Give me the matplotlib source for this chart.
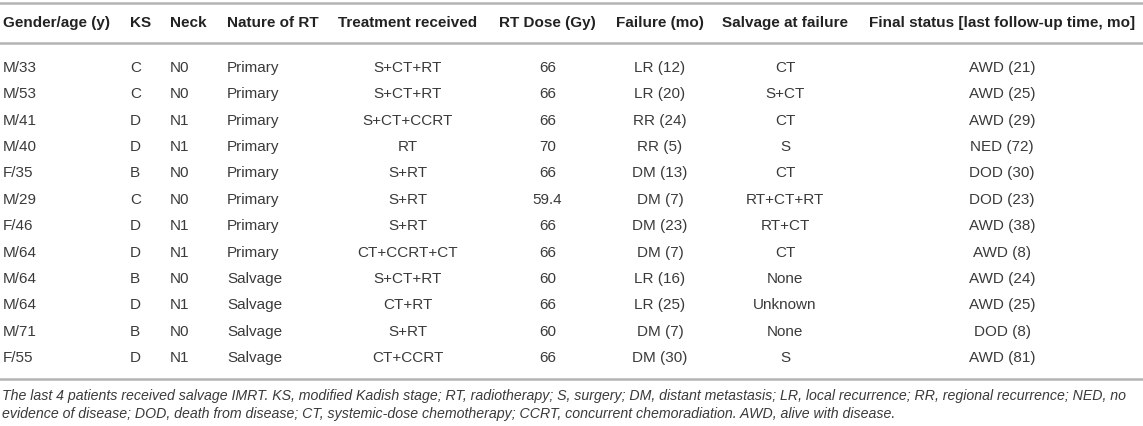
import matplotlib
matplotlib.use("Agg")
import matplotlib.pyplot as plt
from matplotlib.lines import Line2D

# table content
Headers = ["Gender/age (y)", "KS", "Neck", "Nature of RT", "Treatment received",
           "RT Dose (Gy)", "Failure (mo)", "Salvage at failure",
           "Final status [last follow-up time, mo]"]
Gender_Age = ["M/33", "M/53", "M/41", "M/40", "F/35", "M/29", "F/46", "M/64", "M/64", "M/64", "M/71", "F/55"]
KS = ["C", "C", "D", "D", "B", "C", "D", "D", "B", "D", "B", "D"]
Neck = ["N0", "N0", "N1", "N1", "N0", "N0", "N1", "N1", "N0", "N1", "N0", "N1"]
Nature_RT = ["Primary"] * 8 + ["Salvage"] * 4
Treatment = ["S+CT+RT", "S+CT+RT", "S+CT+CCRT", "RT", "S+RT", "S+RT", "S+RT",
             "CT+CCRT+CT", "S+CT+RT", "CT+RT", "S+RT", "CT+CCRT"]
RT_Dose = ["66", "66", "66", "70", "66", "59.4", "66", "66", "60", "66", "60", "66"]
Failure = ["LR (12)", "LR (20)", "RR (24)", "RR (5)", "DM (13)", "DM (7)", "DM (23)",
           "DM (7)", "LR (16)", "LR (25)", "DM (7)", "DM (30)"]
Salvage = ["CT", "S+CT", "CT", "S", "CT", "RT+CT+RT", "RT+CT", "CT", "None",
           "Unknown", "None", "S"]
Final_Status = ["AWD (21)", "AWD (25)", "AWD (29)", "NED (72)", "DOD (30)", "DOD (23)",
                "AWD (38)", "AWD (8)", "AWD (24)", "AWD (25)", "DOD (8)", "AWD (81)"]
Footnote = ["The last 4 patients received salvage IMRT. KS, modified Kadish stage; RT, radiotherapy; "
            "S, surgery; DM, distant metastasis; LR, local recurrence; RR, regional recurrence; NED, no",
            "evidence of disease; DOD, death from disease; CT, systemic-dose chemotherapy; "
            "CCRT, concurrent chemoradiation. AWD, alive with disease."]

Columns = [Gender_Age, KS, Neck, Nature_RT, Treatment, RT_Dose, Failure, Salvage, Final_Status]
Col_X = [3, 130, 170, 227, 338, 499, 616, 722, 869]       # header left edges in px
Centered = [False, False, False, False, True, True, True, True, True]

W, H = 1143, 426
fig = plt.figure(figsize=(W / 100, H / 100), dpi=100)
plt.rcParams['font.family'] = ['Liberation Sans', 'DejaVu Sans']

def px(x, y):
    return x / W, 1 - y / H

txt_col = '#3a3a3a'
line_col = '#b4b4b4'
fs = 11

# horizontal rules
for yy in [3, 43, 379]:
    fig.add_artist(Line2D([0, 1], [1 - yy / H] * 2, color=line_col, lw=1.8))

fig.canvas.draw()
renderer = fig.canvas.get_renderer()

Head_Center = []
for i in range(len(Headers)):
    t = fig.text(*px(Col_X[i], 23), Headers[i], fontsize=fs, fontweight='bold',
                 color='#222222', ha='left', va='center')
    bb = t.get_window_extent(renderer)
    Head_Center.append((bb.x0 + bb.x1) / 2)

Row_Y0 = 68
Row_Step = 26.36
for c in range(len(Columns)):
    for r in range(len(Columns[c])):
        yy = Row_Y0 + r * Row_Step
        if Centered[c]:
            fig.text(Head_Center[c] / W, 1 - yy / H, Columns[c][r], fontsize=fs,
                     color=txt_col, ha='center', va='center')
        else:
            fig.text(*px(Col_X[c], yy), Columns[c][r], fontsize=fs,
                     color=txt_col, ha='left', va='center')

for k in range(len(Footnote)):
    fig.text(*px(2, 396 + k * 18), Footnote[k], fontsize=10.2, style='italic',
             color=txt_col, ha='left', va='center')

fig.savefig("out.png", dpi=100)
